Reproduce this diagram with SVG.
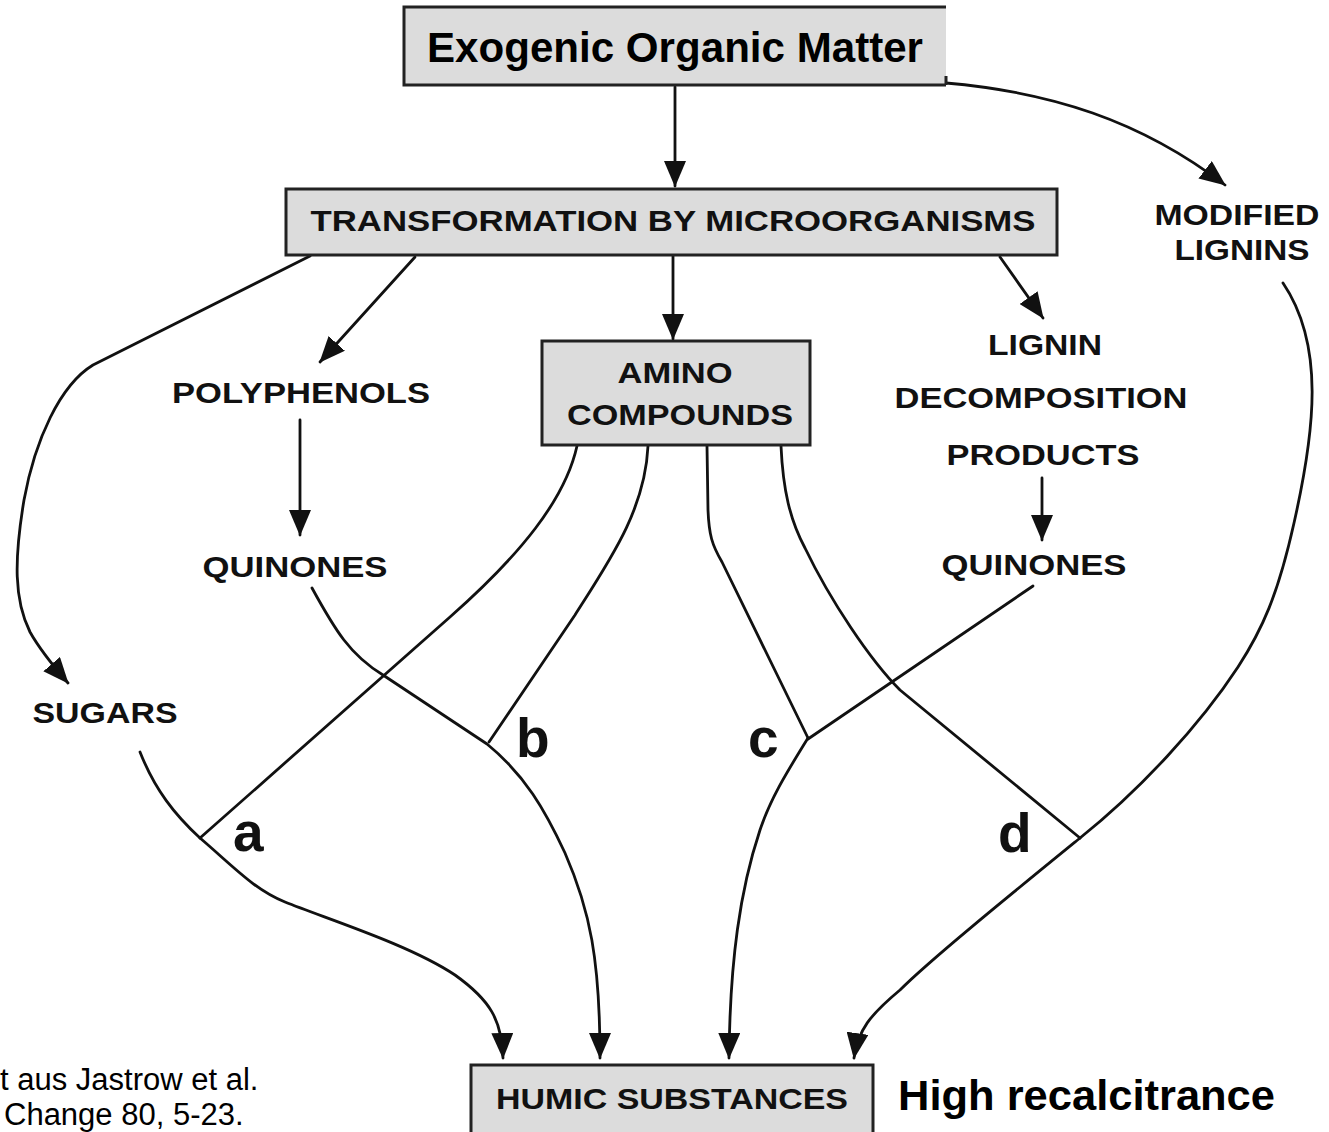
<svg xmlns="http://www.w3.org/2000/svg" width="1329" height="1132" viewBox="0 0 1329 1132">
<style>
.box{fill:#dcdcdc;stroke:#222;stroke-width:3}
.lbl{font-family:"Liberation Sans",Arial,sans-serif;font-weight:bold;font-size:30px;fill:#111;text-anchor:middle}
.big{font-family:"Liberation Sans",Arial,sans-serif;font-weight:bold;font-size:42px;fill:#000}
.let{font-family:"Liberation Sans",Arial,sans-serif;font-weight:bold;font-size:55px;fill:#111}
.cit{font-family:"Liberation Sans",Arial,sans-serif;font-size:31px;fill:#000}
.ln{fill:none;stroke:#111;stroke-width:2.8;stroke-linejoin:round;stroke-linecap:round}
.ar{marker-end:url(#ah)}
</style>
<defs>
<marker id="ah" viewBox="0 0 26 22" markerWidth="26" markerHeight="22" refX="25" refY="11" orient="auto" markerUnits="userSpaceOnUse">
<path d="M0,0 L26,11 L0,22 z" fill="#111"/>
</marker>
</defs>
<rect width="1329" height="1132" fill="#fff"/>

<g id="connectors">
<path class="ln ar" d="M675,87 L675,186"/>
<path class="ln ar" d="M946,83 C1050,92 1140,120 1225,185"/>
<path class="ln ar" d="M673,256 L673,339"/>
<path class="ln ar" d="M415,257 L320,362"/>
<path class="ln ar" d="M1000,257 L1043,318"/>
<path class="ln ar" d="M310,256 L93,365 C60,385 35,440 24,500 C14,560 14,600 30,632 C40,650 55,668 68,683"/>
<path class="ln ar" d="M300,420 L300,535"/>
<path class="ln ar" d="M1042,478 L1042,540"/>
<!-- a -->
<path class="ln" d="M577,446 C565,500 520,555 450,617 L200,838"/>
<path class="ln ar" d="M140,752 C155,790 175,815 200,838 C235,868 255,890 285,902 C330,920 410,945 455,975 C490,1000 502,1020 503,1058"/>
<!-- b -->
<path class="ln" d="M648,446 C645,510 610,560 575,615 L489,742"/>
<path class="ln ar" d="M312,588 C335,630 350,655 383,675 L487,744 C525,775 545,810 565,853 C590,910 600,960 600,1058"/>
<!-- c -->
<path class="ln" d="M707,446 L708,510 C709,535 712,545 722,562 L808,738"/>
<path class="ln" d="M1033,586 L808,739"/>
<path class="ln ar" d="M808,738 C785,775 770,800 760,830 C740,890 730,960 729,1058"/>
<!-- d -->
<path class="ln" d="M781,446 C783,490 790,520 805,548 C830,600 870,660 900,690 L1080,838"/>
<path class="ln ar" d="M1283,283 C1325,345 1315,430 1294,523 C1278,595 1262,630 1238,667 C1200,725 1140,790 1080,838 C1010,895 930,960 900,990 C870,1015 858,1030 854,1058"/>
</g>

<g id="exogenic">
<rect x="404" y="7" width="542" height="78" fill="#dcdcdc"/>
<path d="M946,7 L404,7 L404,85 L946,85 M946,76 L946,85" fill="none" stroke="#222" stroke-width="3"/>
<text class="big" x="675" y="62" text-anchor="middle" textLength="496" lengthAdjust="spacingAndGlyphs">Exogenic Organic Matter</text>
</g>

<g id="transformation">
<rect class="box" x="286" y="189" width="771" height="66"/>
<text class="lbl" x="673" y="231" textLength="725" lengthAdjust="spacingAndGlyphs">TRANSFORMATION BY MICROORGANISMS</text>
</g>

<g id="modified-lignins">
<text class="lbl" x="1237" y="225" textLength="165" lengthAdjust="spacingAndGlyphs">MODIFIED</text>
<text class="lbl" x="1242" y="260" textLength="135" lengthAdjust="spacingAndGlyphs">LIGNINS</text>
</g>

<g id="polyphenols">
<text class="lbl" x="301" y="403" textLength="258" lengthAdjust="spacingAndGlyphs">POLYPHENOLS</text>
</g>

<g id="quinones-left">
<text class="lbl" x="295" y="577" textLength="185" lengthAdjust="spacingAndGlyphs">QUINONES</text>
</g>

<g id="sugars">
<text class="lbl" x="105" y="723" textLength="145" lengthAdjust="spacingAndGlyphs">SUGARS</text>
</g>

<g id="amino">
<rect class="box" x="542" y="341" width="268" height="104"/>
<text class="lbl" x="675" y="383" textLength="115" lengthAdjust="spacingAndGlyphs">AMINO</text>
<text class="lbl" x="680" y="425" textLength="226" lengthAdjust="spacingAndGlyphs">COMPOUNDS</text>
</g>

<g id="lignin-products">
<text class="lbl" x="1045" y="355" textLength="114" lengthAdjust="spacingAndGlyphs">LIGNIN</text>
<text class="lbl" x="1041" y="408" textLength="293" lengthAdjust="spacingAndGlyphs">DECOMPOSITION</text>
<text class="lbl" x="1043" y="465" textLength="193" lengthAdjust="spacingAndGlyphs">PRODUCTS</text>
</g>

<g id="quinones-right">
<text class="lbl" x="1034" y="575" textLength="185" lengthAdjust="spacingAndGlyphs">QUINONES</text>
</g>

<g id="labels">
<text class="let" x="233" y="851">a</text>
<text class="let" x="516" y="757">b</text>
<text class="let" x="748" y="757">c</text>
<text class="let" x="998" y="852">d</text>
</g>

<g id="humic">
<rect class="box" x="471" y="1065" width="402" height="80"/>
<text class="lbl" x="672" y="1109" textLength="352" lengthAdjust="spacingAndGlyphs">HUMIC SUBSTANCES</text>
</g>

<g id="annotations">
<text class="big" x="898" y="1110" textLength="377" lengthAdjust="spacingAndGlyphs">High recalcitrance</text>
<text class="cit" x="0" y="1090">t aus Jastrow et al.</text>
<text class="cit" x="4" y="1125">Change 80, 5-23.</text>
</g>
</svg>
